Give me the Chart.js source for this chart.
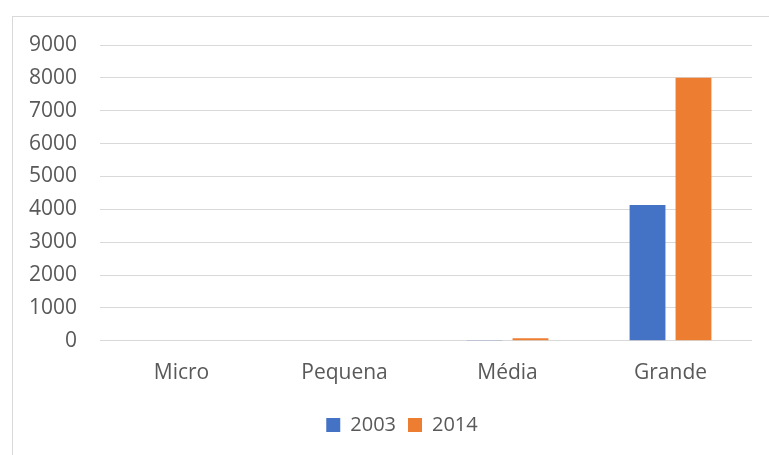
<!DOCTYPE html>
<html>
<head>
<meta charset="utf-8">
<script src="https://cdn.jsdelivr.net/npm/chart.js@4"></script>
<style>
  html, body { margin: 0; padding: 0; background: #fff; }
  #wrap { position: relative; width: 769px; height: 455px; overflow: hidden; }
  #frame { position: absolute; left: 12px; top: 16px; width: 800px; height: 500px; border: 1px solid #d9d9d9; box-sizing: border-box; }
  canvas { position: absolute; left: 0; top: 0; }
</style>
</head>
<body>
<div id="wrap">
  <div id="frame"></div>
  <canvas id="c" width="769" height="455"></canvas>
</div>
<script>
const categories = ["Micro", "Pequena", "Média", "Grande"];
const series2003 = [0, 0, 25, 4130];
const series2014 = [0, 0, 80, 8000];
const seriesNames = ["2003", "2014"];
const yTicks = [0, 1000, 2000, 3000, 4000, 5000, 6000, 7000, 8000, 9000];

const FONT = "'Open Sans', sans-serif";
const TXT = "#595959";

const shiftLegend = {
  id: "shiftLegend",
  afterLayout(chart) {
    const l = chart.legend;
    if (l) { l.left += 26; l.right += 26; l.top -= 3; l.bottom -= 3; }
  }
};

new Chart(document.getElementById("c"), {
  type: "bar",
  data: {
    labels: categories,
    datasets: [
      { label: seriesNames[0], data: series2003, backgroundColor: "#4472c4", categoryPercentage: 0.564, barPercentage: 0.78 },
      { label: seriesNames[1], data: series2014, backgroundColor: "#ed7d31", categoryPercentage: 0.564, barPercentage: 0.78 }
    ]
  },
  plugins: [shiftLegend],
  options: {
    responsive: false,
    animation: false,
    layout: { padding: { left: 0, right: 17, top: 45, bottom: 7 } },
    plugins: {
      tooltip: { enabled: false },
      legend: {
        position: "bottom",
        labels: { boxWidth: 14, boxHeight: 14, color: TXT, font: { family: FONT, size: 20 }, padding: 12 }
      }
    },
    scales: {
      x: {
        grid: { display: false, drawTicks: false },
        border: { display: false },
        ticks: { color: TXT, font: { family: FONT, size: 21 }, padding: 20 }
      },
      y: {
        min: 0, max: 9000,
        afterFit: (s) => { s.width = 100; },
        afterBuildTicks: (s) => { s.ticks = yTicks.map(v => ({ value: v })); },
        grid: { color: "#d9d9d9", lineWidth: 1, drawTicks: false },
        border: { display: false },
        ticks: { color: TXT, font: { family: FONT, size: 21 }, padding: 23, callback: (v) => String(v) }
      }
    }
  }
});
</script>
</body>
</html>
